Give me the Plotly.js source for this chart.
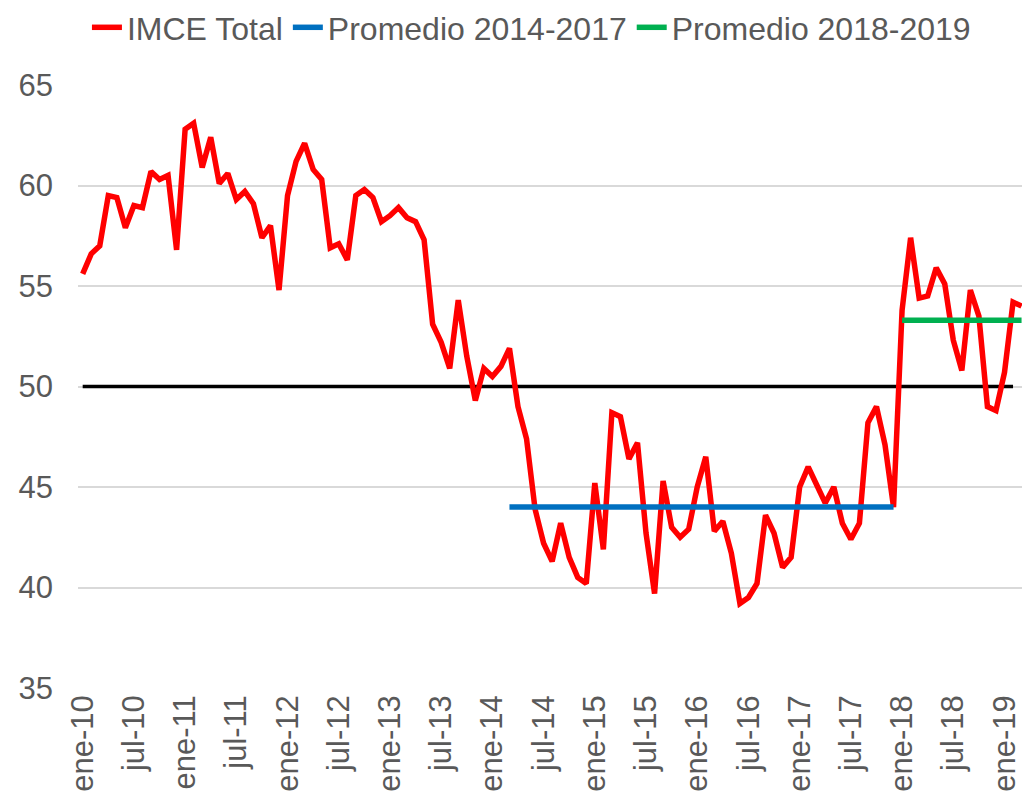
<!DOCTYPE html>
<html>
<head>
<meta charset="utf-8">
<script src="https://cdn.plot.ly/plotly-3.0.1.min.js"></script>
<style>
  html, body { margin: 0; padding: 0; background: #fff; }
  #chart { width: 1022px; height: 808px; }
</style>
</head>
<body>
<div id="chart"></div>
<script>
// IMCE monthly, ene-10 .. mar-19
const mesesAbrev = ["ene", "feb", "mar", "abr", "may", "jun", "jul", "ago", "sep", "oct", "nov", "dic"];
const anioInicio = 2010;

const imce = [
    55.6, 56.6, 57.0, 59.5, 59.4, 57.9, 59.0, 58.9, 60.7, 60.3, 60.5, 56.8,
    62.8, 63.1, 60.9, 62.4, 60.1, 60.6, 59.3, 59.7, 59.1, 57.4, 58.0, 54.8,
    59.5, 61.2, 62.1, 60.8, 60.3, 56.9, 57.1, 56.3, 59.5, 59.8, 59.4, 58.2,
    58.5, 58.9, 58.4, 58.2, 57.3, 53.1, 52.2, 50.9, 54.3, 51.5, 49.3, 50.9,
    50.5, 51.0, 51.9, 49.0, 47.4, 43.9, 42.2, 41.3, 43.2, 41.5, 40.5, 40.2,
    45.2, 41.9, 48.7, 48.5, 46.4, 47.2, 42.7, 39.7, 45.3, 43.0, 42.5, 42.9,
    45.0, 46.5, 42.8, 43.3, 41.7, 39.2, 39.5, 40.2, 43.6, 42.7, 41.0, 41.5,
    45.0, 46.0, 45.1, 44.2, 45.0, 43.2, 42.4, 43.2, 48.2, 49.0, 47.1, 44.0,
    53.8, 57.4, 54.4, 54.5, 55.9, 55.1, 52.3, 50.8, 54.8, 53.5, 49.0, 48.8,
    50.7, 54.2, 54.0
];

// averages and the neutral line
const promedio1 = 44.0;   // mar-14 .. dic-17
const promedio2 = 53.3;   // ene-18 .. mar-19
const umbral = 50;        // ene-10 .. feb-19

// month labels like "ene-10"
const meses = imce.map((v, i) => {
    const anio = anioInicio + Math.floor(i / 12);
    return mesesAbrev[i % 12] + "-" + String(anio).slice(2);
});

const tickMeses = meses.filter((m, i) => i % 6 === 0);

const p1Meses = meses.slice(meses.indexOf("mar-14"), meses.indexOf("dic-17") + 1);
const p2Meses = meses.slice(meses.indexOf("ene-18"));
const umbralMeses = meses.slice(0, meses.indexOf("feb-19") + 1);

const fuente = { family: "Liberation Sans, Arial, sans-serif", color: "#595959" };

const data = [
    {
        x: umbralMeses,
        y: umbralMeses.map(() => umbral),
        type: 'scatter',
        mode: 'lines',
        showlegend: false,
        hoverinfo: 'skip',
        line: { color: "#000000", width: 3.5 }
    },
    {
        x: meses,
        y: imce,
        name: "IMCE Total",
        type: 'scatter',
        mode: 'lines',
        line: { color: "#FF0000", width: 5.5 }
    },
    {
        x: p1Meses,
        y: p1Meses.map(() => promedio1),
        name: "Promedio 2014-2017",
        type: 'scatter',
        mode: 'lines',
        line: { color: "#0070C0", width: 5.5 }
    },
    {
        x: p2Meses,
        y: p2Meses.map(() => promedio2),
        name: "Promedio 2018-2019",
        type: 'scatter',
        mode: 'lines',
        line: { color: "#00B050", width: 5.5 }
    }
];

const layout = {
    width: 1022,
    height: 808,
    margin: { l: 78, r: 0, t: 85, b: 120 },
    paper_bgcolor: "#ffffff",
    plot_bgcolor: "#ffffff",
    font: Object.assign({ size: 31 }, fuente),
    showlegend: true,
    legend: {
        orientation: 'h',
        x: 0.52,
        xref: 'container',
        xanchor: 'center',
        y: 1.0,
        yref: 'container',
        yanchor: 'top',
        font: Object.assign({ size: 32 }, fuente),
        itemwidth: 30,
        tracegroupgap: 0
    },
    xaxis: {
        type: 'category',
        range: [-0.55, 110.05],
        tickmode: 'array',
        tickvals: tickMeses,
        ticktext: tickMeses,
        tickangle: -90,
        showgrid: false,
        showline: false,
        zeroline: false,
        ticks: '',
        tickfont: Object.assign({ size: 31 }, fuente)
    },
    yaxis: {
        range: [35, 65],
        dtick: 5,
        showgrid: true,
        gridcolor: "#d9d9d9",
        gridwidth: 1.5,
        zeroline: false,
        showline: false,
        ticks: '',
        ticklabelstandoff: 24,
        tickfont: Object.assign({ size: 31 }, fuente)
    }
};

Plotly.newPlot('chart', data, layout, { displayModeBar: false, responsive: false });
</script>
</body>
</html>
